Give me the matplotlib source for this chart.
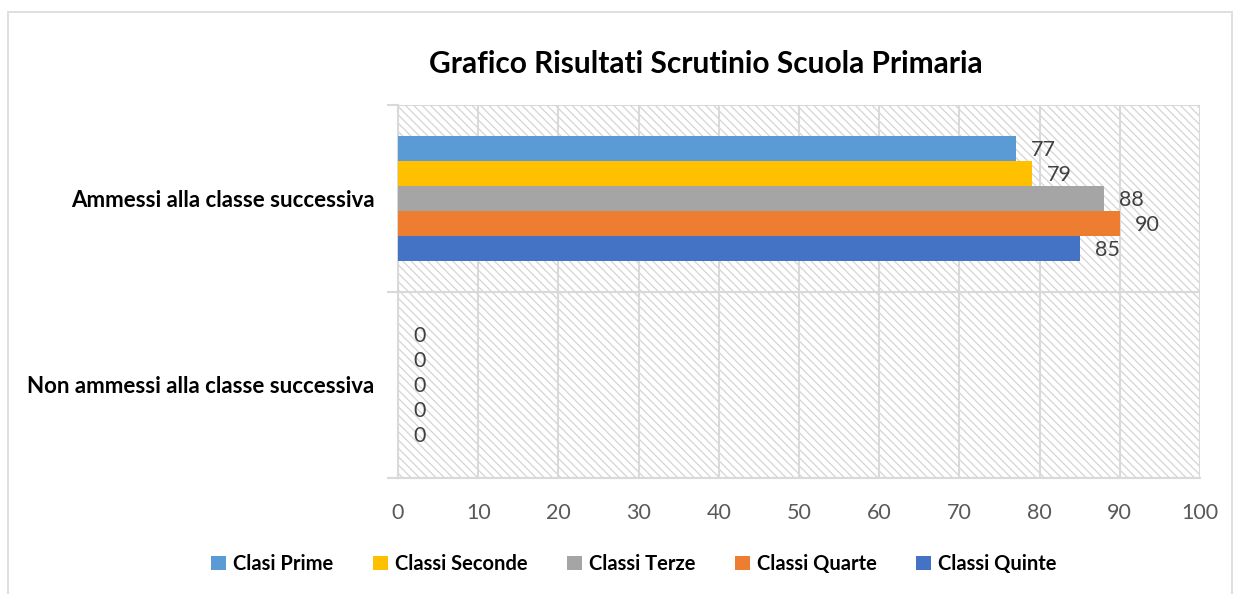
import numpy as np
import matplotlib.pyplot as plt
from matplotlib.patches import Rectangle

categories = ["Non ammessi alla classe successiva", "Ammessi alla classe successiva"]
series_names = ["Clasi Prime", "Classi Seconde", "Classi Terze", "Classi Quarte", "Classi Quinte"]
ammessi = [77, 79, 88, 90, 85]
non_ammessi = [0, 0, 0, 0, 0]
colors = ["#5b9bd5", "#ffc000", "#a5a5a5", "#ed7d31", "#4472c4"]

plt.rcParams['font.family'] = ['Lato', 'DejaVu Sans']
plt.rcParams['hatch.linewidth'] = 0.9
plt.rcParams['hatch.color'] = '#d4d4d4'

fig = plt.figure(figsize=(12.35, 5.94), dpi=100)
ax = fig.add_axes([398 / 1235, 1 - 478 / 594, 802 / 1235, 373 / 594])

# outer chart frame
fig.patches.append(Rectangle((8 / 1235, -0.1), (1232 - 8) / 1235, 1 - 12 / 594 + 0.1,
                             transform=fig.transFigure, fill=False,
                             edgecolor='#d9d9d9', linewidth=1.2))

# hatched plot area
ax.add_patch(Rectangle((0, 0), 1, 1, transform=ax.transAxes, facecolor='white',
                       edgecolor='#d4d4d4', hatch='\\\\\\\\', linewidth=0, zorder=0))

bar_h = 0.134
values = np.array([non_ammessi, ammessi])
y = np.arange(len(categories))
for i, name in enumerate(series_names):
    offs = (2 - i) * bar_h
    bars = ax.barh(y + offs, values[:, i], height=bar_h, color=colors[i], label=name, zorder=3)
    for b, v in zip(bars, values[:, i]):
        ax.annotate(str(v), (v, b.get_y() + b.get_height() / 2), xytext=(11, -1),
                    textcoords='offset points', va='center', ha='left',
                    fontsize=15.5, color='#404040', zorder=4)

ax.set_xlim(0, 100)
ax.set_ylim(-0.5, 1.5)
ax.set_xticks(np.arange(0, 101, 10))
ax.tick_params(axis='x', length=0, labelsize=15.5, labelcolor='#595959', pad=18)
ax.set_yticks(y)
ax.set_yticklabels(categories, fontsize=16, fontweight='bold')
ax.tick_params(axis='y', length=0, pad=17)
ax.set_yticks([-0.5, 0.5, 1.5], minor=True)
ax.tick_params(axis='y', which='minor', length=8, color='#d9d9d9', width=1.5)
ax.grid(axis='x', color='#d9d9d9', linewidth=1.5, zorder=1)
ax.grid(axis='y', which='minor', color='#d9d9d9', linewidth=1.5, zorder=1)
ax.set_axisbelow(True)
for s in ['top', 'right']:
    ax.spines[s].set_visible(False)
ax.spines['left'].set_color('#d9d9d9')
ax.spines['left'].set_linewidth(1.5)
ax.spines['bottom'].set_color('#d9d9d9')
ax.spines['bottom'].set_linewidth(1.5)

fig.text(706 / 1235, 1 - 64 / 594, "Grafico Risultati Scrutinio Scuola Primaria",
         ha='center', va='center', fontsize=21.5, fontweight='bold')

leg = fig.legend(loc='center', bbox_to_anchor=(634 / 1235, 1 - 564 / 594), ncol=5, frameon=False,
                 prop={'size': 14.5, 'weight': 'bold'}, handlelength=0.75, handleheight=0.75,
                 handletextpad=0.35, columnspacing=1.95)

fig.savefig("out.png", dpi=100)
